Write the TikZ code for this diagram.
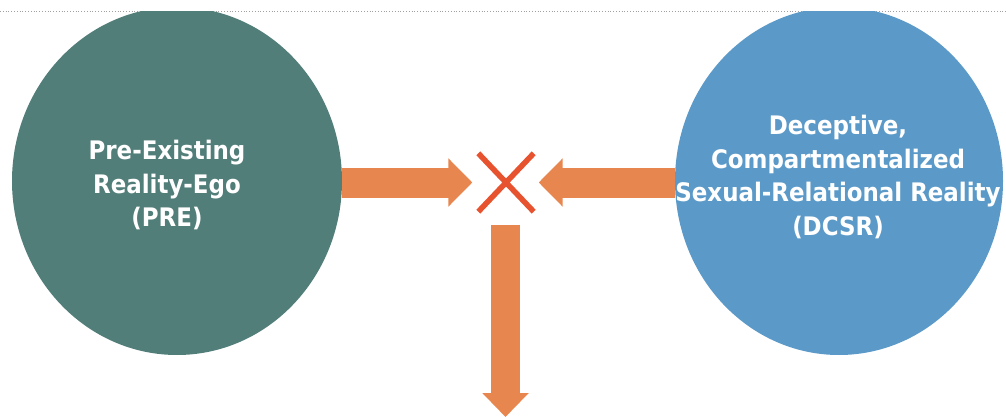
\documentclass[tikz,border=0pt]{standalone}
\usepackage{fontspec}
\setmainfont{DejaVu Sans Condensed}
\usetikzlibrary{arrows.meta,shapes.geometric}
\definecolor{teal}{HTML}{527E7A}
\definecolor{skyblue}{HTML}{5B9AC8}
\definecolor{flow}{HTML}{E8864F}
\definecolor{cross}{HTML}{E8532F}
\definecolor{rule}{HTML}{A0A0A0}
\tikzset{
  disc/.style={ellipse, minimum width=330pt, minimum height=348pt, inner sep=0pt},
  lbl/.style={text=white, align=center, font=\bfseries\fontsize{25.5}{33.5}\selectfont},
  flowarrow/.style={draw=flow, line width=30pt,
    -{Triangle[width=47pt,length=24pt,fill=flow]}},
  downarrow/.style={draw=flow, line width=29pt,
    -{Triangle[width=45pt,length=24pt,fill=flow]}},
  crossline/.style={draw=cross, line width=5.5pt},
}
\begin{document}
\begin{tikzpicture}[x=1pt,y=1pt]
\useasboundingbox (0,0) rectangle (1006,-417);
% dotted header rule
\draw[rule, dotted, line width=0.8pt] (0,-11) -- (1006,-11);
% the two realities, cut off at the header rule
\begin{scope}
  \clip (0,-11.6) rectangle (1006,-417);
  \node[disc, fill=teal] (PRE) at (177,-181) {};
  \node[disc, fill=skyblue, minimum width=328pt] (DCSR) at (839,-181) {};
\end{scope}
\node[lbl] (PREtext) at (167,-185) {Pre-Existing\\Reality-Ego\\(PRE)};
\node[lbl] (DCSRtext) at (838,-177) {Deceptive,\\Compartmentalized\\Sexual-Relational Reality\\(DCSR)};
% collision mark
\node[minimum width=55pt, minimum height=58pt, inner sep=0pt] (X) at (506,-182.5) {};
\draw[crossline] (X.north west) -- (X.south east);
\draw[crossline] (X.north east) -- (X.south west);
% flows into and out of the collision
\coordinate (out) at (505.5,-417);
\draw[flowarrow] (X -| PRE.east) -- ([xshift=-6pt]X.west);
\draw[flowarrow] (X -| DCSR.west) -- ([xshift=5pt]X.east);
\draw[downarrow] ([yshift=-13pt]X.south -| out) -- (out);
\end{tikzpicture}
\end{document}
